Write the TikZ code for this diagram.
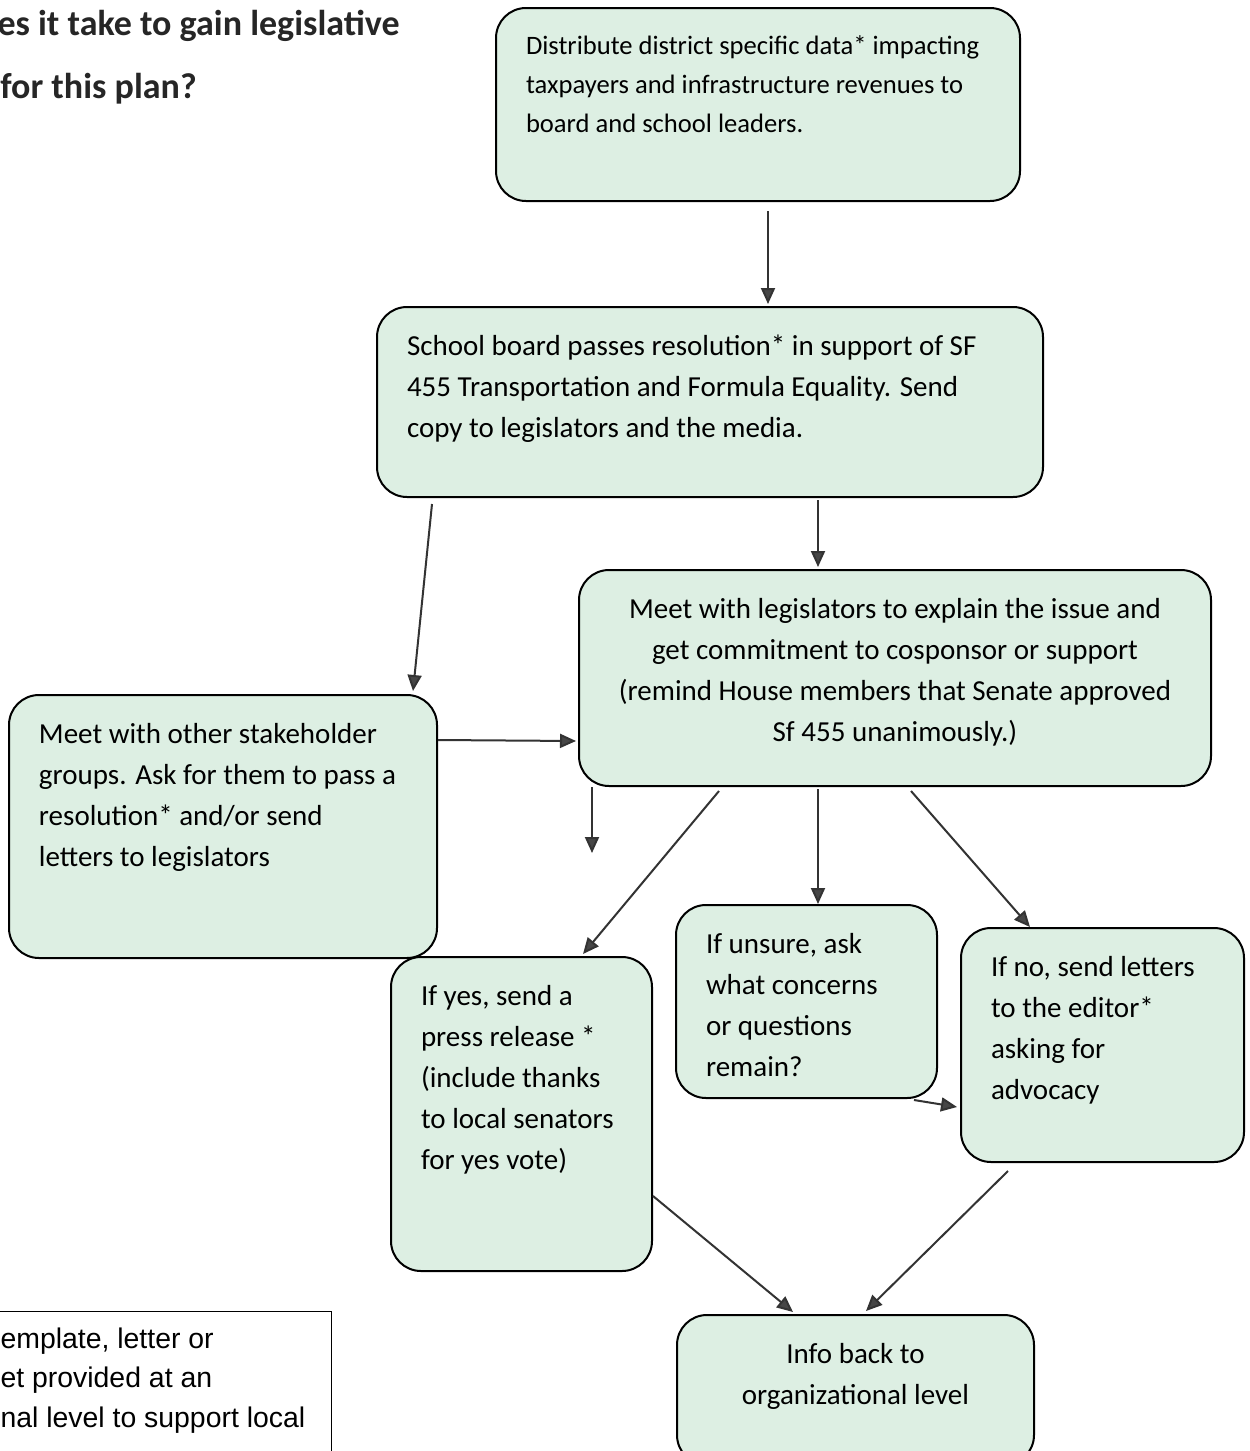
\documentclass[tikz,border=0pt]{standalone}
\usepackage{fontspec}
\setmainfont{Carlito}
\newfontfamily\notefont{Liberation Sans}
\usepackage{tikz}
\usetikzlibrary{arrows.meta, calc}
\definecolor{mint}{RGB}{221,239,227}
\definecolor{tipgray}{RGB}{70,70,70}
\newcommand{\boxtext}[4][\raggedright]{\parbox[c][#2][t]{#3}{#1 #4}}
\tikzstyle{process} = [rectangle, 
rounded corners=15pt, 
draw=black, 
line width=1pt, 
fill=mint, 
inner xsep=15pt, 
inner ysep=14pt, 
font=\fontsize{14.5}{20.5}\selectfont]
\tikzstyle{title} = [inner sep=0pt, font=\fontsize{18}{23}\selectfont\bfseries, text=black!85]
\tikzstyle{footnote} = [rectangle, draw=black, line width=0.6pt, fill=white, 
inner xsep=13pt, inner ysep=8pt, align=left, text depth=90pt,
font=\notefont\fontsize{14.2}{19.75}\selectfont]
\tikzstyle{arrow} = [line width=1pt, draw=black!80, -{Triangle[length=8pt,width=7pt,fill=tipgray]}]

\begin{document}
\begin{tikzpicture}[x=0.5pt, y=-0.5pt]
    \useasboundingbox (0,0) rectangle (1249,1451);
    \clip (0,0) rectangle (1249,1451);
    \fill [white] (0,0) rectangle (1249,1451);

    \node (ask) [title, anchor=base east] at (400,35) {es it take to gain legislative};
    \node (plan) [title, anchor=base west] at (0,98) {for this plan?};

    \node (top) [process, font=\fontsize{13.3}{19.3}\selectfont] at (758,104.5) {
      \boxtext{68.5pt}{232pt}{Distribute district specific data* impacting\\
      taxpayers and infrastructure revenues to\\
      board and school leaders.}
    };
    \node (sch) [process] at (710,402) {
      \boxtext{67pt}{303pt}{School board passes resolution* in support of SF\\
      455 Transportation and Formula Equality. Send\\
      copy to legislators and the media.}
    };
    \node (meet) [process] at (895,678) {
      \boxtext[\centering]{80pt}{286pt}{Meet with legislators to explain the issue and\\
      get commitment to cosponsor or support\\
      (remind House members that Senate approved\\
      Sf 455 unanimously.)}
    };
    \node (stake) [process] at (223,826.5) {
      \boxtext{103.5pt}{184pt}{Meet with other stakeholder\\
      groups. Ask for them to pass a\\
      resolution* and/or send\\
      letters to legislators}
    };
    \node (yes) [process] at (521.5,1114) {
      \boxtext{129pt}{100.5pt}{If yes, send a\\
      press release *\\
      (include thanks\\
      to local senators\\
      for yes vote)}
    };
    \node (unsure) [process] at (806.5,1001.5) {
      \boxtext{68.5pt}{100.5pt}{If unsure, ask\\
      what concerns\\
      or questions\\
      remain?}
    };
    \node (no) [process] at (1102.5,1045) {
      \boxtext{89pt}{111.5pt}{If no, send letters\\
      to the editor*\\
      asking for\\
      advocacy}
    };
    \node (info) [process] at (855.5,1390) {
      \boxtext[\centering]{47pt}{148.5pt}{Info back to\\
      organizational level}
    };
    \node (note) [footnote, anchor=north west] at (-26,1311) {emplate, letter or\\
      et provided at an\\
      nal level to support local};

    \coordinate (loose) at ($(meet.south west)+(14,66)$);

    \draw [arrow] ($(top.south)+(10,9)$) -- ($(sch.north)+(58,-2)$);
    \draw [arrow] ($(sch.south)+(108,2)$) -- ($(meet.north)+(-77,-2)$);
    \draw [arrow] ($(sch.south west)+(56,6)$) -- ($(stake.north)+(190,-3)$);
    \draw [arrow] ($(stake.north east)+(0,46)$) -- ($(meet.west)+(-2,63)$);
    \draw [arrow] ($(meet.south west)+(14,0)$) -- (loose);
    \draw [arrow] ($(meet.south)+(-176,4)$) -- ($(yes.north)+(61.5,-2)$);
    \draw [arrow] ($(meet.south)+(-77,2)$) -- ($(unsure.north)+(11.5,0)$);
    \draw [arrow] ($(meet.south)+(16,4)$) -- ($(no.north)+(-72.5,0)$);
    \draw [arrow] ($(unsure.south east)+(-24,1)$) -- ($(no.west)+(-3,62)$);
    \draw [arrow] ($(yes.east)+(0,82)$) -- ($(info.north)+(-62.5,-2)$);
    \draw [arrow] ($(no.south)+(-94.5,8)$) -- ($(info.north)+(10.5,-3)$);
\end{tikzpicture}
\end{document}
